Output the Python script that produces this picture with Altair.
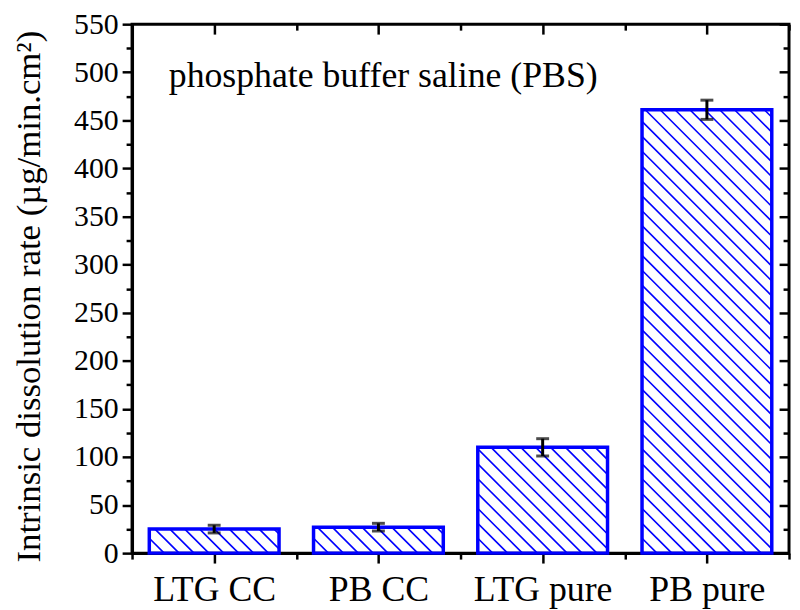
import json
import altair as alt
import pandas as pd

# ---- data ----
categories = ["LTG CC", "PB CC", "LTG pure", "PB pure"]
rates = [25, 27, 110, 461]          # intrinsic dissolution rate (µg/min.cm²)
errors = [4, 4, 9, 10]              # error bar half-lengths
y_ticks = list(range(0, 551, 25))   # 0..550, labels every 50
ANNOT = "phosphate buffer saline (PBS)"
Y_TITLE = "Intrinsic dissolution rate (µg/min.cm²)"

# ---- layout / style constants ----
W, H = 662, 533
TOP = 14
Y_MAX = 550
BAR_W = 0.79
HATCH = 15          # hatch spacing along the bar edge, px
BLUE = "#0000FF"
FONT = "Liberation Serif"

pos = list(range(1, len(categories) + 1))
bars = pd.DataFrame({"cat": categories, "pos": pos, "rate": rates, "err": errors})
bars["x0"] = bars["pos"] - BAR_W / 2
bars["x1"] = bars["pos"] + BAR_W / 2
bars["lo"] = bars["rate"] - bars["err"]
bars["hi"] = bars["rate"] + bars["err"]

# diagonal hatch segments inside each bar, derived from bar values
kx = W / len(categories)
ky = H / Y_MAX
rows = []
for p, v in zip(pos, rates):
    bw = BAR_W * kx
    h = v * ky
    k = HATCH
    while k < bw + h:
        xa = max(0.0, k - h)
        xb = min(bw, k)
        rows.append({
            "hx": p - BAR_W / 2 + xa / kx, "hy": (k - xa) / ky,
            "hx2": p - BAR_W / 2 + xb / kx, "hy2": (k - xb) / ky,
        })
        k += HATCH
hatch = pd.DataFrame(rows)

x_vals = [0.5, 1, 1.5, 2, 2.5, 3, 3.5, 4, 4.5]
xs = alt.Scale(domain=[0.5, len(categories) + 0.5], nice=False, zero=False)
ys = alt.Scale(domain=[0, Y_MAX], nice=False)

x_tick_size = {"condition": {"test": "datum.value % 1 === 0", "value": 10}, "value": 6}
y_tick_size = {"condition": {"test": "datum.value % 50 === 0", "value": 10}, "value": 6}

x_main = alt.Axis(
    orient="bottom", values=x_vals, tickSize=x_tick_size,
    labelExpr=f"{json.dumps(categories)}[datum.value - 1] || ''",
    labelOverlap=False, labelFlush=False, labelFont=FONT, labelFontSize=36,
    labelColor="black", labelBaseline="alphabetic", labelPadding=38,
    title=None, grid=False,
)
y_main = alt.Axis(
    orient="left", values=y_ticks, tickSize=y_tick_size,
    labelExpr="datum.value % 50 === 0 ? datum.label : ''",
    labelOverlap=False, labelFlush=False, labelFont=FONT, labelFontSize=30,
    labelColor="black", labelPadding=4,
    title=Y_TITLE, titleFontSize=35, titleFont=FONT, titleFontWeight="normal",
    titleColor="black", titleAngle=270, titleX=-93, titleY=274,
    titleBaseline="alphabetic", titleAlign="center", grid=False,
)
x_top = alt.Axis(orient="bottom", offset=-H, values=x_vals, tickSize=x_tick_size,
                 labels=False, domain=False, title=None, grid=False)
y_right = alt.Axis(orient="left", offset=-W, values=y_ticks, tickSize=y_tick_size,
                   labels=False, domain=False, title=None, grid=False)

hatch_layer = alt.Chart(hatch).mark_rule(color=BLUE, strokeWidth=1.6).encode(
    x=alt.X("hx:Q", scale=xs, axis=x_top),
    x2="hx2:Q",
    y=alt.Y("hy:Q", scale=ys, axis=y_right),
    y2="hy2:Q",
)

bar_layer = alt.Chart(bars).mark_rect(fill="transparent", stroke=BLUE, strokeWidth=3.5).encode(
    x=alt.X("x0:Q", scale=xs, axis=x_main),
    x2="x1:Q",
    y=alt.Y("rate:Q", scale=ys, axis=y_main),
    y2=alt.datum(0),
)

err_layer = alt.Chart(bars).mark_rule(color="black", strokeWidth=3).encode(
    x=alt.X("pos:Q", scale=xs, axis=None),
    y=alt.Y("lo:Q", scale=ys, axis=None),
    y2="hi:Q",
)
cap_lo = alt.Chart(bars).mark_tick(color="black", orient="horizontal", size=13, thickness=3).encode(
    x=alt.X("pos:Q", scale=xs, axis=None),
    y=alt.Y("lo:Q", scale=ys, axis=None),
)
cap_hi = alt.Chart(bars).mark_tick(color="black", orient="horizontal", size=13, thickness=3).encode(
    x=alt.X("pos:Q", scale=xs, axis=None),
    y=alt.Y("hi:Q", scale=ys, axis=None),
)

text_layer = alt.Chart(pd.DataFrame({"t": [ANNOT]})).mark_text(
    align="left", baseline="alphabetic", font=FONT, fontSize=36, color="black"
).encode(x=alt.value(37), y=alt.value(63), text="t:N")

chart = alt.layer(
    hatch_layer, bar_layer, err_layer, cap_lo, cap_hi, text_layer
).resolve_axis(x="independent", y="independent").properties(
    width=W, height=H,
    autosize=alt.AutoSizeParams(type="none"),
    padding={"left": 125, "top": TOP, "right": 3, "bottom": 55},
).configure_view(
    stroke="black", strokeWidth=3
).configure_axis(
    domainColor="black", domainWidth=3, tickColor="black", tickWidth=2.5,
    labelFont=FONT, labelColor="black", titleColor="black",
)

chart.save("out.html", embed_options={"renderer": "svg", "actions": False})
